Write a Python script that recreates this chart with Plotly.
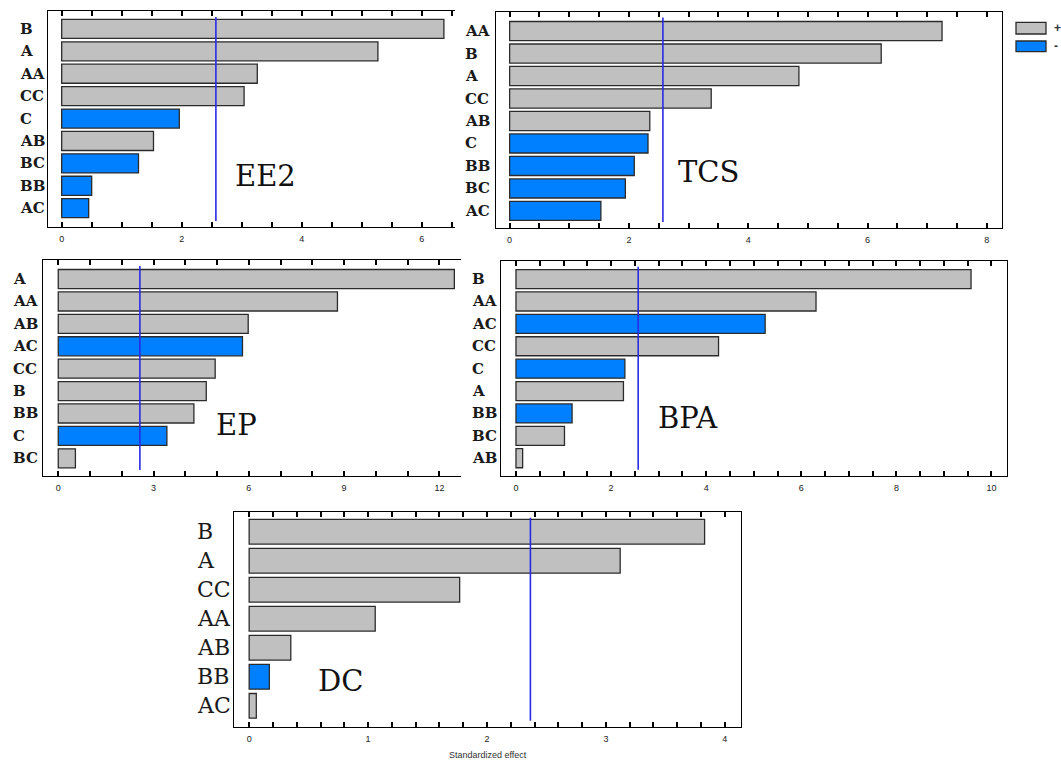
import plotly.graph_objects as go

W, H = 1061, 763

# ---------------- data ----------------
ee2_terms = ["B", "A", "AA", "CC", "C", "AB", "BC", "BB", "AC"]
ee2_effects = [6.37, 5.27, 3.26, 3.04, 1.96, 1.53, 1.28, 0.50, 0.45]
ee2_signs = ["+", "+", "+", "+", "-", "+", "-", "-", "-"]

tcs_terms = ["AA", "B", "A", "CC", "AB", "C", "BB", "BC", "AC"]
tcs_effects = [7.25, 6.23, 4.85, 3.38, 2.35, 2.32, 2.09, 1.94, 1.53]
tcs_signs = ["+", "+", "+", "+", "+", "-", "-", "-", "-"]

ep_terms = ["A", "AA", "AB", "AC", "CC", "B", "BB", "C", "BC"]
ep_effects = [12.47, 8.79, 5.98, 5.80, 4.94, 4.66, 4.27, 3.42, 0.54]
ep_signs = ["+", "+", "+", "-", "+", "+", "+", "-", "+"]

bpa_terms = ["B", "AA", "AC", "CC", "C", "A", "BB", "BC", "AB"]
bpa_effects = [9.57, 6.31, 5.24, 4.26, 2.29, 2.26, 1.18, 1.02, 0.14]
bpa_signs = ["+", "+", "-", "+", "-", "+", "-", "+", "+"]

dc_terms = ["B", "A", "CC", "AA", "AB", "BB", "AC"]
dc_effects = [3.83, 3.12, 1.77, 1.06, 0.35, 0.17, 0.06]
dc_signs = ["+", "+", "+", "+", "+", "-", "+"]

panel_names = ["EE2", "TCS", "EP", "BPA", "DC"]
critical_values = [2.57, 2.57, 2.57, 2.57, 2.365]
legend_labels = ["+", "-"]
x_title = "Standardized effect"

# ---------------- styles ----------------
GRAY = "#c0c0c0"
BLUE = "#0080ff"
EDGE = "#2b2b2b"
LINE_BLUE = "#2a2ae6"
SERIF = "DejaVu Serif"
SANS = "Liberation Sans, Arial, sans-serif"


def px_x(p):
    return p / W


def px_y(p):
    return 1 - p / H


panels = [
    dict(terms=ee2_terms, effects=ee2_effects, signs=ee2_signs,
         frame=(48, 455, 11, 227), xr=[-0.228, 6.555], yr=[8.84, -0.80],
         dtick=2, minor=0.5, right=False, lab_x=18, lab_size=15, lab_bold=True,
         title_xy=(265, 176), title_size=29),
    dict(terms=tcs_terms, effects=tcs_effects, signs=tcs_signs,
         frame=(495.6, 1001.7, 11.5, 228), xr=[-0.235, 8.25], yr=[8.76, -0.87],
         dtick=2, minor=0.5, right=True, lab_x=463, lab_size=15, lab_bold=True,
         title_xy=(708, 172), title_size=29),
    dict(terms=ep_terms, effects=ep_effects, signs=ep_signs,
         frame=(42.7, 461, 260, 476), xr=[-0.49, 12.68], yr=[8.79, -0.85],
         dtick=3, minor=1, right=False, lab_x=11, lab_size=15, lab_bold=True,
         title_xy=(236.5, 425), title_size=29),
    dict(terms=bpa_terms, effects=bpa_effects, signs=bpa_signs,
         frame=(501, 1006.7, 260.7, 475.7), xr=[-0.315, 10.32], yr=[8.78, -0.82],
         dtick=2, minor=0.5, right=True, lab_x=470, lab_size=15, lab_bold=True,
         title_xy=(688.3, 418.3), title_size=29),
    dict(terms=dc_terms, effects=dc_effects, signs=dc_signs,
         frame=(234.3, 741, 511.7, 726.7), xr=[-0.125, 4.136], yr=[6.72, -0.69],
         dtick=1, minor=0.2, right=True, lab_x=195, lab_size=22, lab_bold=False,
         title_xy=(340, 681), title_size=29),
]

fig = go.Figure()
annotations = []
shapes = []

for i, p in enumerate(panels):
    n = i + 1
    xa = "x" if n == 1 else f"x{n}"
    ya = "y" if n == 1 else f"y{n}"
    xkey = "xaxis" if n == 1 else f"xaxis{n}"
    ykey = "yaxis" if n == 1 else f"yaxis{n}"
    colors = [GRAY if s == "+" else BLUE for s in p["signs"]]
    fig.add_trace(go.Bar(
        x=p["effects"], y=p["terms"], orientation="h",
        marker=dict(color=colors, line=dict(color=EDGE, width=1.3)),
        width=0.85, xaxis=xa, yaxis=ya, showlegend=False, hoverinfo="x+y",
    ))
    l, r, t, b = p["frame"]
    fig.layout[xkey] = dict(
        domain=[px_x(l), px_x(r)], range=p["xr"], anchor=ya,
        showline=True, linecolor="black", linewidth=1.4, mirror="ticks",
        ticks="inside", ticklen=5, tickwidth=1.5, tickcolor="black",
        dtick=p["dtick"], tick0=0, showgrid=False, zeroline=False,
        minor=dict(dtick=p["minor"], tick0=0, ticks="inside", ticklen=5,
                   tickwidth=1.5, tickcolor="black", showgrid=False),
        tickfont=dict(family=SANS, size=9, color="#222222"),
        ticklabelstandoff=3,
        title=dict(text=x_title if n == 5 else "",
                   font=dict(family=SANS, size=9, color="#333333"), standoff=8),
    )
    fig.layout[ykey] = dict(
        domain=[px_y(b), px_y(t)], range=p["yr"], anchor=xa,
        type="category", categoryorder="array", categoryarray=p["terms"],
        showline=True, linecolor="black", linewidth=1.4, mirror=p["right"],
        ticks="", showticklabels=False, showgrid=False, zeroline=False,
    )
    for term in p["terms"]:
        annotations.append(dict(
            x=px_x(p["lab_x"]), xref="paper", y=term, yref=ya,
            text=term, showarrow=False, xanchor="left", yanchor="middle",
            font=dict(family=SERIF, size=p["lab_size"], color="#1a1a1a",
                      weight="bold" if p["lab_bold"] else "normal"),
        ))
    tx, ty = p["title_xy"]
    annotations.append(dict(
        x=px_x(tx), y=px_y(ty), xref="paper", yref="paper",
        text=panel_names[i], showarrow=False, xanchor="center", yanchor="middle",
        font=dict(family=SERIF, size=p["title_size"], color="#111111"),
    ))
    shapes.append(dict(
        type="line", xref=xa, yref=f"{ya} domain",
        x0=critical_values[i], x1=critical_values[i], y0=0.028, y1=0.972,
        line=dict(color=LINE_BLUE, width=1.6),
    ))

leg_boxes = [(22.3, 34), (41, 51.7)]
for lab, col, (y0, y1) in zip(legend_labels, [GRAY, BLUE], leg_boxes):
    shapes.append(dict(
        type="rect", xref="paper", yref="paper",
        x0=px_x(1016), x1=px_x(1046), y0=px_y(y1), y1=px_y(y0),
        fillcolor=col, line=dict(color=EDGE, width=1.3),
    ))
    annotations.append(dict(
        x=px_x(1052), y=px_y((y0 + y1) / 2), xref="paper", yref="paper",
        text=lab, showarrow=False, xanchor="left", yanchor="middle",
        font=dict(family=SANS, size=12, color="#333333", weight="bold"),
    ))

fig.update_layout(
    width=W, height=H, margin=dict(l=0, r=0, t=0, b=0),
    paper_bgcolor="white", plot_bgcolor="white",
    annotations=annotations, shapes=shapes, bargap=0.15,
)

fig.write_html(
    "out.html",
    config={"displayModeBar": False},
    post_script="document.body.style.margin='0';document.body.style.padding='0';",
)
